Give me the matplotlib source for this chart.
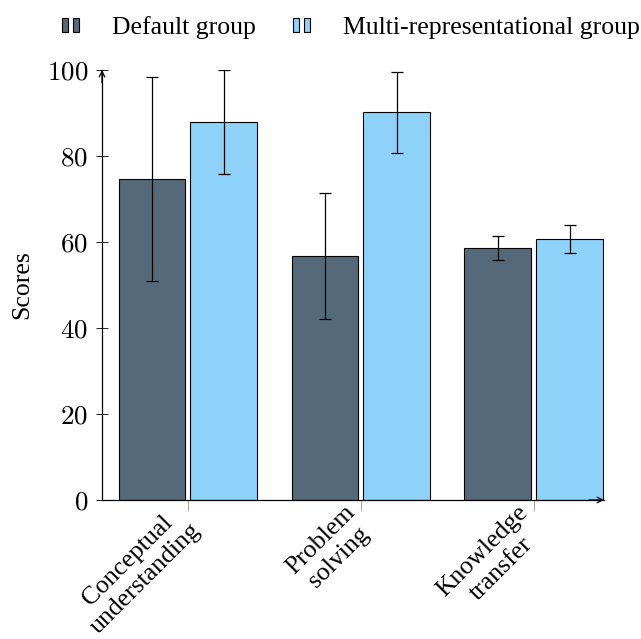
#!/usr/bin/env python3
"""Grouped bar chart: scores of default vs multi-representational group."""

import matplotlib
matplotlib.use("Agg")
import matplotlib.pyplot as plt
from matplotlib.legend_handler import HandlerBase
from matplotlib.patches import Patch, Rectangle
import numpy as np

categories = ["Conceptual\nunderstanding", "Problem\nsolving", "Knowledge\ntransfer"]
default_mean = [74.7, 56.7, 58.5]
default_err = [23.7, 14.6, 2.8]
multi_mean = [87.9, 90.2, 60.7]
multi_err = [12.1, 9.4, 3.3]
y_ticks = [0, 20, 40, 60, 80, 100]

DARK = "#546a7b"
LIGHT = "#8ed2fa"

plt.rcParams["font.family"] = ["Liberation Serif", "DejaVu Serif"]
plt.rcParams["mathtext.fontset"] = "cm"
FS = 18.5


class TwoBarHandler(HandlerBase):
    # pgfplots-like ybar legend icon: two little bars side by side
    def create_artists(self, legend, orig_handle, xdescent, ydescent,
                       width, height, fontsize, trans):
        w = width * 0.33
        h = height * 0.8
        y0 = -ydescent + (height - h) / 2
        arts = []
        for x0 in (-xdescent + width * 0.02, -xdescent + width * 0.62):
            r = Rectangle((x0, y0), w, h, facecolor=orig_handle.get_facecolor(),
                          edgecolor="black", linewidth=0.8, transform=trans)
            arts.append(r)
        return arts


fig = plt.figure(figsize=(6.41, 6.39), dpi=100)
ax = fig.add_axes([102 / 641, 139 / 639, 502 / 641, 430 / 639])

x = np.arange(len(categories))
bw = 0.387
off = 0.208
ekw = dict(ecolor="black", elinewidth=0.9, capsize=4, capthick=0.9)
ax.bar(x - off, default_mean, bw, color=DARK, edgecolor="black", linewidth=0.8,
       yerr=default_err, error_kw=ekw, zorder=2)
ax.bar(x + off, multi_mean, bw, color=LIGHT, edgecolor="black", linewidth=0.8,
       yerr=multi_err, error_kw=ekw, zorder=2)

ax.set_xlim(-0.497, 2.405)
ax.set_ylim(0, 100)
ax.spines["top"].set_visible(False)
ax.spines["right"].set_visible(False)
for s in ("left", "bottom"):
    ax.spines[s].set_linewidth(0.9)

# arrow heads on the axes, latex style
arrow = dict(arrowstyle="->", color="black", lw=0.9, shrinkA=0, shrinkB=0)
ax.annotate("", xy=(0, 1.0), xytext=(0, 0.97), xycoords="axes fraction",
            arrowprops=arrow, annotation_clip=False)
ax.annotate("", xy=(1.0, 0), xytext=(0.97, 0), xycoords="axes fraction",
            arrowprops=arrow, annotation_clip=False)

ax.set_yticks(y_ticks)
ax.set_yticklabels([f"${v}$" for v in y_ticks], fontsize=19.5)
ax.tick_params(axis="y", direction="inout", length=8, width=0.6, pad=6)
ax.set_xticks(x)
ax.set_xticklabels(categories, fontsize=FS, rotation=45, ha="right", va="center",
                   rotation_mode="anchor", multialignment="center",
                   linespacing=1.2)
ax.tick_params(axis="x", direction="out", length=8, width=0.6, color="#999999", pad=5)

ax.set_ylabel("Scores", fontsize=FS, labelpad=10)

handles = [Patch(facecolor=DARK), Patch(facecolor=LIGHT)]
fig.legend(handles, ["Default group", "Multi-representational group"],
           handler_map={Patch: TwoBarHandler()}, loc="upper right",
           bbox_to_anchor=(640 / 641, 0.975), ncol=2, frameon=False, fontsize=FS,
           borderpad=0.0, borderaxespad=0.0,
           handlelength=0.7, handleheight=0.7, handletextpad=1.25,
           columnspacing=1.45)

fig.savefig("out.png", dpi=100)
